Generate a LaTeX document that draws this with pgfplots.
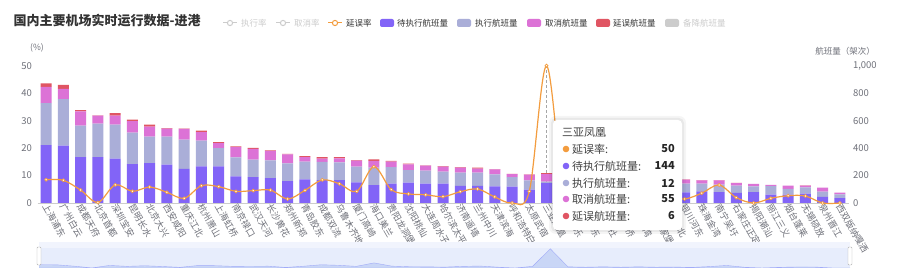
\documentclass[border=0pt]{standalone}
\usepackage{pgfplots}
\pgfplotsset{compat=1.18}
\usepackage{pgfplotstable}
\usepackage{fontspec}
\setmainfont{Noto Sans CJK SC}
\definecolor{cPend}{HTML}{8264F7}
\definecolor{cExec}{HTML}{AAAED8}
\definecolor{cCanc}{HTML}{DC72D6}
\definecolor{cDel}{HTML}{E05563}
\definecolor{cRate}{HTML}{F39C3E}
\definecolor{cOff}{HTML}{CCCCCC}
\definecolor{cAxis}{HTML}{6E7079}
\definecolor{cTitle}{HTML}{333333}
\definecolor{cSlider}{HTML}{E7EDFC}
\definecolor{cShadow}{HTML}{C9D6F6}

\pgfplotstableread{
x rate pend exec canc del
0 8.5 422 306 117 27
1 8.25 417 340 75 29
2 4.7 335 228 104 10
3 0.2 335 243 58 2
4 6.6 323 248 66 17
5 4.25 284 228 85 10
6 5.8 291 192 73 15
7 3.9 279 204 58 5
8 1.7 248 214 78 2
9 6.3 267 187 63 10
10 5.95 267 133 36 7
11 4.25 194 138 75 5
12 4.5 189 126 80 7
13 4.7 182 129 68 5
14 1.45 160 129 66 2
15 4.6 172 129 34 7
16 8.4 167 133 24 10
17 7.0 167 129 29 10
18 4.25 150 114 44 5
19 13.2 131 126 49 12
20 4.85 141 121 39 5
21 3.3 148 92 41 5
22 3.0 141 95 36 2
23 2.3 141 87 36 5
24 4.1 124 97 36 5
25 5.1 124 97 29 7
26 2.2 121 87 36 2
27 0 119 70 22 2
28 4.25 97 68 41 2
29 50 144 12 55 6
30 3 115 50 20 3
31 2 110 50 20 2
32 3 105 50 18 2
33 2 100 48 18 2
34 3 95 45 17 2
35 2 90 43 16 2
36 2.5 85 40 15 2
37 1.45 78 63 29 2
38 3.6 85 56 24 2
39 6.55 80 53 32 2
40 1.95 73 53 19 2
41 0 80 41 19 0
42 1.7 61 61 10 0
43 2.65 61 41 24 0
44 2.55 68 46 12 2
45 0 44 39 29 0
46 0 36 27 12 0
}\data

\begin{document}
\begin{tikzpicture}[x=1pt,y=1pt]
\path[use as bounding box, fill=white] (0,0) rectangle (900,275);

% ---------- bars (right axis) ----------
\begin{axis}[
  at={(37.5pt,72pt)}, anchor=south west, scale only axis,
  width=811pt, height=137.3pt,
  xmin=-0.5, xmax=46.5, ymin=0, ymax=1000,
  ybar stacked, bar width=11pt,
  axis y line*=right, axis x line*=bottom,
  x axis line style={draw=cOff, line width=0.6pt},
  y axis line style={draw=none},
  major tick length=0pt,
  ytick={0,200,400,600,800,1000},
  /pgf/number format/1000 sep={,},
  /pgf/number format/assume math mode=true,
  yticklabel style={font=\fontsize{9.5}{10}\selectfont, text=cAxis, anchor=west, xshift=1pt},
  xtick={0,...,46},
  xticklabels={上海浦东,广州白云,成都天府,北京首都,深圳宝安,昆明长水,北京大兴,西安咸阳,重庆江北,杭州萧山,上海虹桥,南京禄口,武汉天河,长沙黄花,郑州新郑,青岛胶东,成都双流,乌鲁木齐地窝堡,厦门高崎,海口美兰,贵阳龙洞堡,沈阳桃仙,大连周水子,哈尔滨太平,济南遥墙,兰州中川,天津滨海,呼和浩特白塔,太原武宿,三亚凤凰,福州长乐,南通兴东,宁波栎社,合肥新桥,温州龙湾,西宁曹家堡,南昌昌北,银川河东,珠海金湾,南宁吴圩,石家庄正定,揭阳潮汕,丽江三义,烟台蓬莱,无锡硕放,泉州晋江,西双版纳嘎洒},
  xticklabel style={font=\fontsize{9}{10}\selectfont, text=cAxis, rotate=-60, anchor=west, inner sep=1pt, yshift=-2pt},
  every axis plot/.append style={draw=none},
  clip=false,
]
\addplot[fill=cPend] table[x=x,y=pend] {\data};
\addplot[fill=cExec] table[x=x,y=exec] {\data};
\addplot[fill=cCanc] table[x=x,y=canc] {\data};
\addplot[fill=cDel] table[x=x,y=del] {\data};
\draw[densely dashed, color=gray!70, line width=0.5pt] (axis cs:29,0) -- (axis cs:29,1000);
\end{axis}

% ---------- delay rate (left axis) ----------
\begin{axis}[
  at={(37.5pt,72pt)}, anchor=south west, scale only axis,
  width=811pt, height=137.3pt,
  xmin=-0.5, xmax=46.5, ymin=0, ymax=50,
  axis y line*=left, axis x line=none,
  y axis line style={draw=none},
  major tick length=0pt,
  ytick={0,10,20,30,40,50},
  /pgf/number format/assume math mode=true,
  yticklabel style={font=\fontsize{9.5}{10}\selectfont, text=cAxis, anchor=east, xshift=-2pt},
  clip=false,
]
\addplot[color=cRate, line width=1.2pt, smooth, tension=0.55,
  mark=*, mark size=1.5pt, mark options={fill=white, draw=cRate, line width=0.7pt}]
  table[x=x,y=rate] {\data};
\end{axis}

% axis names
\node[anchor=center, text=cAxis, font=\fontsize{8.5}{9}\selectfont] at (37,227) {(\%)};
\node[anchor=center, text=cAxis, font=\fontsize{8.5}{9}\selectfont] at (845,224) {航班量（架次）};

% title
\node[anchor=west, text=cTitle, font=\bfseries\fontsize{13}{14}\selectfont] at (10,254) {国内主要机场实时运行数据-进港};

% legend
\begin{scope}[font=\fontsize{8.5}{9}\selectfont]
\draw[cOff, line width=1pt] (223,252) -- (237,252);
\draw[cOff, fill=white, line width=1pt] (230,252) circle (2.6);
\node[anchor=west, text=cOff, inner sep=0] at (241,252) {执行率};
\draw[cOff, line width=1pt] (276,252) -- (290,252);
\draw[cOff, fill=white, line width=1pt] (283,252) circle (2.6);
\node[anchor=west, text=cOff, inner sep=0] at (294,252) {取消率};
\draw[cRate, line width=1pt] (328,252) -- (342,252);
\draw[cRate, fill=white, line width=1pt] (335,252) circle (2.6);
\node[anchor=west, text=cTitle, inner sep=0] at (346,252) {延误率};
\fill[cPend, rounded corners=2pt] (380,248) rectangle (394,256);
\node[anchor=west, text=cTitle, inner sep=0] at (397,252) {待执行航班量};
\fill[cExec, rounded corners=2pt] (457,248) rectangle (471,256);
\node[anchor=west, text=cTitle, inner sep=0] at (475,252) {执行航班量};
\fill[cCanc, rounded corners=2pt] (527,248) rectangle (541,256);
\node[anchor=west, text=cTitle, inner sep=0] at (545,252) {取消航班量};
\fill[cDel, rounded corners=2pt] (596,248) rectangle (610,256);
\node[anchor=west, text=cTitle, inner sep=0] at (613,252) {延误航班量};
\fill[cOff, rounded corners=2pt] (665,248) rectangle (679,256);
\node[anchor=west, text=cOff, inner sep=0] at (683,252) {备降航班量};
\end{scope}

% ---------- data zoom slider ----------
\fill[cSlider] (39,7) rectangle (850,33);
\fill[cSlider!60] (39,27) rectangle (850,33);
\begin{axis}[
  at={(39pt,7pt)}, anchor=south west, scale only axis,
  width=811pt, height=20pt,
  xmin=0, xmax=46, ymin=0, ymax=52,
  axis lines=none, clip=true,
]
\addplot[fill=cShadow, draw=cShadow!80!blue, line width=0.4pt] table[x=x,y=rate] {\data} \closedcycle;
\end{axis}
\draw[gray!60, fill=white, rounded corners=1pt] (37,10) rectangle (41,28);
\draw[gray!60, fill=white, rounded corners=1pt] (848,10) rectangle (852,28);

% ---------- tooltip ----------
\fill[black, opacity=0.04, rounded corners=7pt] (549,41) rectangle (686,159);
\fill[black, opacity=0.05, rounded corners=5pt] (551,43) rectangle (684,157);
\fill[white, rounded corners=4pt] (553,45) rectangle (682,155);
\begin{scope}[font=\fontsize{11}{12}\selectfont]
\node[anchor=west, text=black!75, inner sep=0] at (562,142) {三亚凤凰};
\fill[cRate] (566,126) circle (3.3);
\node[anchor=west, text=black!75, inner sep=0] at (572,126) {延误率:};
\node[anchor=east, text=black!85, inner sep=0, font=\bfseries\fontsize{11}{12}\selectfont] at (675,126) {50};
\fill[cPend] (566,109) circle (3.3);
\node[anchor=west, text=black!75, inner sep=0] at (572,109) {待执行航班量:};
\node[anchor=east, text=black!85, inner sep=0, font=\bfseries\fontsize{11}{12}\selectfont] at (675,109) {144};
\fill[cExec] (566,92) circle (3.3);
\node[anchor=west, text=black!75, inner sep=0] at (572,92) {执行航班量:};
\node[anchor=east, text=black!85, inner sep=0, font=\bfseries\fontsize{11}{12}\selectfont] at (675,92) {12};
\fill[cCanc] (566,76) circle (3.3);
\node[anchor=west, text=black!75, inner sep=0] at (572,76) {取消航班量:};
\node[anchor=east, text=black!85, inner sep=0, font=\bfseries\fontsize{11}{12}\selectfont] at (675,76) {55};
\fill[cDel] (566,59) circle (3.3);
\node[anchor=west, text=black!75, inner sep=0] at (572,59) {延误航班量:};
\node[anchor=east, text=black!85, inner sep=0, font=\bfseries\fontsize{11}{12}\selectfont] at (675,59) {6};
\end{scope}
\end{tikzpicture}
\end{document}
